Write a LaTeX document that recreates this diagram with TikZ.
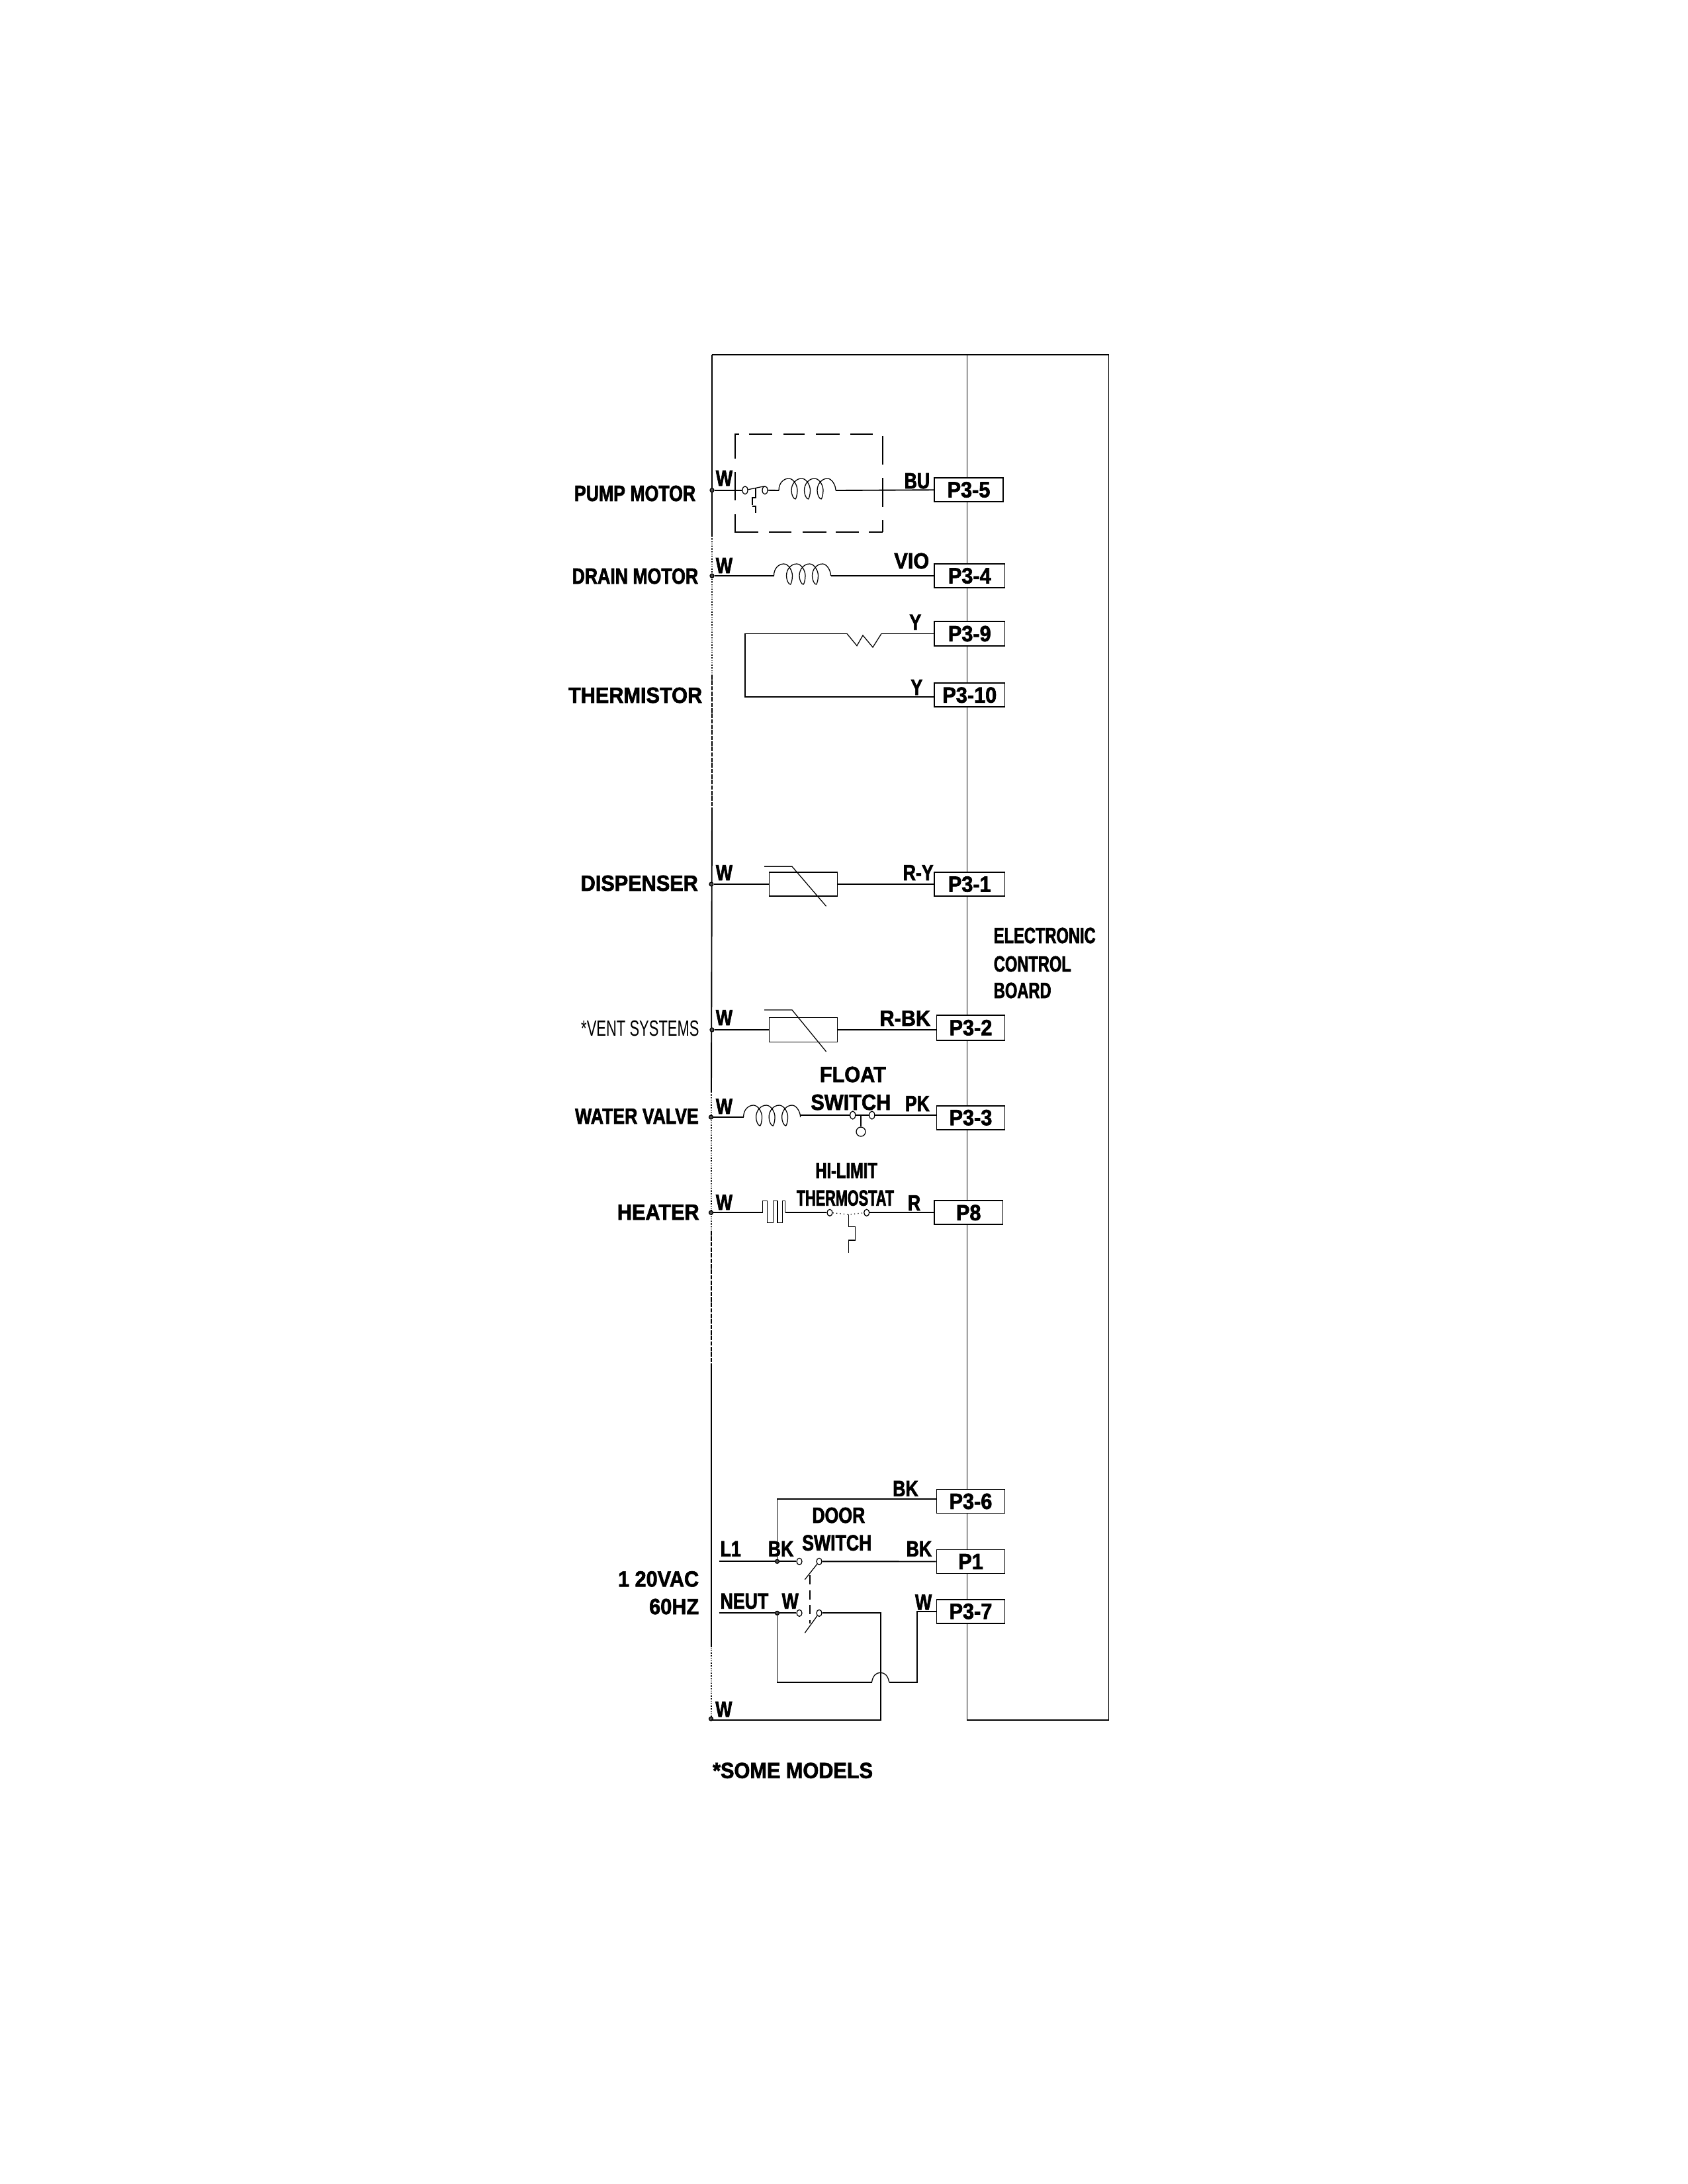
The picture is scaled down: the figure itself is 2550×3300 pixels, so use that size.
\documentclass[tikz,border=0pt]{standalone}
\usepackage{fontspec}
\setmainfont{Liberation Sans}
\newfontfamily\lblfont[FakeStretch=0.8,FakeBold=2]{Liberation Sans Bold}
\newfontfamily\lblwide[FakeStretch=0.92,FakeBold=2]{Liberation Sans Bold}
\newfontfamily\lblslim[FakeStretch=0.71,FakeBold=2]{Liberation Sans Bold}
\newfontfamily\lblnarrow[FakeStretch=0.65,FakeBold=2]{Liberation Sans Bold}
\newfontfamily\lblthin[FakeStretch=0.66]{Liberation Sans}
\usetikzlibrary{shapes,calc,positioning}

\def\px{0.24pt}
\tikzset{
	wire/.style={line width=0.45pt},
	thin wire/.style={line width=0.3pt},
	bus dots/.style={line width=0.4pt,dash pattern=on 0.3pt off 0.3pt},
	bus dash/.style={line width=0.5pt,dash pattern=on 1.6pt off 0.4pt},
	lbl/.style={inner sep=0pt,font=\fontsize{8}{8}\lblfont},
	lbl left/.style={lbl,anchor=base west},
	lbl right/.style={lbl,anchor=base east},
	wide/.style={font=\fontsize{8}{8}\lblwide},
	slim/.style={font=\fontsize{8}{8}\lblslim},
	plug/.style={draw,fill=white,line width=0.4pt,inner sep=0pt,minimum width=103*\px,minimum height=36*\px,font=\fontsize{8}{8}\lblwide},
	dot/.style={circle,draw,fill=black!70,line width=0.3pt,inner sep=0pt,minimum size=6*\px},
	contact/.style={ellipse,draw,fill=white,line width=0.3pt,inner sep=0pt,minimum width=8*\px,minimum height=12*\px},
	coil/.pic={
		\coordinate (-in) at (0,0);
		\coordinate (-out) at (86,0);
		\draw[thin wire] (0,0) .. controls (0,-12) and (8,-18) .. (15,-18)
			\foreach \k in {0,19.5,39} {
				.. controls (22+\k,-18) and (28+\k,-8) .. (28+\k,0)
				.. controls (28+\k,6) and (26+\k,13) .. (25+\k,13)
				.. controls (22+\k,13) and (19+\k,6) .. (19+\k,0)
				.. controls (19+\k,-10) and (26+\k,-18) .. (34.5+\k,-18)
			}
			.. controls (80,-18) and (86,-8) .. (86,0);
	},
}

\begin{document}
\begin{tikzpicture}[x=0.24pt,y=-0.24pt]
	\useasboundingbox (0,0) rectangle (2550,3300);

	% board and bus
	\coordinate (bustop) at (1076,536);
	\coordinate (boardtop) at (1461.5,536);
	\coordinate (cornertr) at (1675.5,536);
	\coordinate (cornerbr) at (1675.5,2599);
	\coordinate (boardbot) at (1461.5,2599);
	\draw[wire] (bustop) -- (cornertr) -- (cornerbr) -- (boardbot) -- (boardtop);
	\draw[wire] (bustop) -- (1076,810);
	\draw[bus dots] (1076,810) -- (1076,1020);
	\draw[bus dash] (1076,1020) -- (1076,1223);
	\draw[wire] (1076,1223) -- (1075,1650);
	\draw[bus dots] (1075,1650) -- (1075,1860);
	\draw[bus dash] (1075,1860) -- (1075,2063);
	\draw[wire] (1075,2063) -- (1075,2488);
	\draw[bus dots] (1075,2488) -- (1075,2596);

	% plugs
	\node[plug,minimum width=103.5*\px] (p35) at (1464,740) {P3-5};
	\node[plug,minimum width=106.5*\px] (p34) at (1465.3,870) {P3-4};
	\node[plug,minimum width=106.5*\px,minimum height=37*\px] (p39) at (1465.3,957.5) {P3-9};
	\node[plug,minimum width=106.5*\px] (p310) at (1465.3,1050.3) {P3-10};
	\node[plug,minimum width=106.5*\px] (p31) at (1465.3,1336) {P3-1};
	\node[plug,minimum height=37.7*\px] (p32) at (1467,1552.8) {P3-2};
	\node[plug] (p33) at (1467,1688.7) {P3-3};
	\node[plug,minimum width=103.5*\px] (p8) at (1463.7,1832.3) {P8};
	\node[plug] (p36) at (1467,2268.5) {P3-6};
	\node[plug] (p1) at (1467,2359.5) {P1};
	\node[plug] (p37) at (1467,2434.7) {P3-7};

	% dots on the bus
	\node[dot] (dpump) at (1076,740.7) {};
	\node[dot] (ddrain) at (1076,870) {};
	\node[dot] (ddisp) at (1075,1336) {};
	\node[dot] (dvent) at (1076,1556) {};
	\node[dot] (dvalve) at (1074.5,1688) {};
	\node[dot] (dheat) at (1074.5,1832.3) {};
	\node[dot] (dret) at (1074.5,2597) {};

	% pump motor
	\foreach \a/\b in {1110/1117,1131.6/1167,1184/1216,1233/1269,1285/1319}
		\draw[wire] (\a,656) -- (\b,656);
	\foreach \a/\b in {1110/1146,1162/1196,1213/1249,1263/1298,1313/1334}
		\draw[wire] (\a,804) -- (\b,804);
	\foreach \a/\b in {656/693,713/756,777/804}
		\draw[wire] (1110.6,\a) -- (1110.6,\b);
	\foreach \a/\b in {659/702,722/766,786/804}
		\draw[wire] (1334,\a) -- (1334,\b);
	\node[contact] (cp1) at (1126,740.7) {};
	\node[contact] (cp2) at (1156,740.7) {};
	\pic (coilp) at (1177,741) {coil};
	\draw[wire] (dpump) -- (cp1);
	\draw[thin wire] (cp1) -- (1155,734.7);
	\draw[wire] (cp2) -- (coilp-in);
	\draw[wire] (coilp-out) -- (p35);
	\draw[thin wire] (1142,738) -- (1142,752) -- (1137,752) -- (1137,763);
	\draw[thin wire] (1137,765) -- (1142,765) -- (1142,775);

	% drain motor
	\pic (coild) at (1169.5,870) {coil};
	\draw[wire] (ddrain) -- (coild-in);
	\draw[wire] (coild-out) -- (p34);

	% thermistor
	\coordinate (tleft) at (1125.7,957.5);
	\coordinate (tbot) at (1125.7,1053);
	\coordinate (r1) at (1280,957.5);
	\coordinate (r2) at (1332,957.5);
	\draw[wire] (p39) -- (r2);
	\draw[thin wire] (r2) -- (1319,978) -- (1304,960) -- (1295,975.7) -- (r1);
	\draw[wire] (r1) -- (tleft) -- (tbot) -- (tbot -| p310.west);

	% dispenser and vent
	\node[draw,wire,inner sep=0pt,minimum width=103*\px,minimum height=36*\px] (rdisp) at (1214,1336) {};
	\node[draw,wire,inner sep=0pt,minimum width=103*\px,minimum height=37*\px] (rvent) at (1214,1556) {};
	\draw[wire] (ddisp) -- (rdisp) (rdisp) -- (p31);
	\draw[wire] (dvent) -- (rvent);
	\draw[wire] (rvent) -- (rvent -| p32.west);
	\draw[thin wire] (1155,1309.3) -- (1197,1309.3) -- (1248.6,1369.3);
	\draw[thin wire] (1155,1526) -- (1197,1526) -- (1248.6,1589);

	% water valve
	\pic (coilv) at (1123.6,1688) {coil};
	\node[contact] (cv1) at (1288.7,1685) {};
	\node[contact] (cv2) at (1317.8,1685) {};
	\node[circle,draw,thin wire,inner sep=0pt,minimum size=14*\px] (flt) at (1301,1710) {};
	\draw[wire] (dvalve) -- (coilv-in);
	\draw[wire] (coilv-out |- cv1) -- (cv1);
	\draw[thin wire] (cv1) -- (cv2);
	\draw[wire] (cv2) -- (cv2 -| p33.west);
	\draw[thin wire] (flt) -- (1301,1685);

	% heater
	\node[contact,minimum height=10*\px] (ch1) at (1254,1832.3) {};
	\node[contact,minimum height=10*\px] (ch2) at (1309.7,1832.3) {};
	\coordinate (h1) at (1152.6,1832.3);
	\coordinate (h2) at (1186.5,1832.3);
	\draw[wire] (dheat) -- (h1);
	\draw[thin wire] (h1) -- (1152.6,1814.3) -- (1159.3,1814.3) -- (1159.3,1847.3) -- (1168.2,1847.3) -- (1168.2,1814.3)
		-- (1175,1814.3) -- (1175,1847.3) -- (1182.5,1847.3) -- (1182.5,1814.3) -- (1186.5,1814.3) -- (h2);
	\draw[wire] (h2) -- (ch1);
	\draw[thin wire,densely dotted] (ch1) -- (1282.5,1835) -- (ch2);
	\draw[wire] (ch2) -- (p8);
	\draw[thin wire] (1282.5,1835) -- (1282.5,1853.3) -- (1292.8,1853.3) -- (1292.8,1874) -- (1282.5,1874) -- (1282.5,1892.7);

	% door switch
	\node[dot] (dl1) at (1174.5,2359.3) {};
	\node[dot] (dneu) at (1174.5,2437.3) {};
	\node[contact,minimum height=10*\px] (cl1) at (1208,2359.3) {};
	\node[contact,minimum height=10*\px] (cl2) at (1238,2359.3) {};
	\node[contact,minimum height=10*\px] (cn1) at (1208,2437.3) {};
	\node[contact,minimum height=10*\px] (cn2) at (1238,2437.3) {};
	\coordinate (l1) at (1086.5,2359.3);
	\coordinate (neu) at (1086.5,2437.3);
	\coordinate (top6) at (1174.5,2265.3);
	\coordinate (ncorner) at (1331.4,2437.3);
	\coordinate (nbot) at (1331.4,2599);
	\coordinate (loopl) at (1174.5,2541.7);
	\coordinate (jump1) at (1317.5,2541.7);
	\coordinate (jump2) at (1343.7,2541.7);
	\coordinate (loopr) at (1385.7,2541.7);
	\coordinate (loopt) at (1385.7,2434.7);
	\draw[wire] (l1) -- (dl1) -- (cl1);
	\draw[wire] (dl1) -- (top6) -- (top6 -| p36.west);
	\draw[wire] (cl2) -- (p1);
	\draw[wire] (neu) -- (dneu) -- (cn1);
	\draw[thin wire] (cl2) -- (1216.3,2386.7);
	\draw[thin wire] (cn2) -- (1216.3,2467.3);
	\draw[wire,dash pattern=on 3.4pt off 2pt] (1223.7,2380) -- (1223.7,2453);
	\draw[wire] (cn2) -- (ncorner) -- (nbot) -- (nbot -| dret);
	\draw[wire] (dneu) -- (loopl) -- (jump1);
	\draw[thin wire] (jump1) .. controls (1319,2532) and (1324,2527.3) .. (1330.6,2527.3) .. controls (1337,2527.3) and (1342,2532) .. (jump2);
	\draw[wire] (jump2) -- (loopr) -- (loopt) -- (p37);

	% labels on the left
	\node[lbl right] (tpump) at (1052,757) {PUMP MOTOR};
	\node[lbl right] (tdrain) at (1056,882) {DRAIN MOTOR};
	\node[lbl right,wide] (ttherm) at (1062,1062) {THERMISTOR};
	\node[lbl right,wide] (tdisp) at (1055.7,1346) {DISPENSER};
	\node[lbl right,font=\fontsize{8}{8}\lblthin] (tvent) at (1057.5,1565) {*VENT SYSTEMS};
	\node[lbl right] (tvalve) at (1056.6,1698) {WATER VALVE};
	\node[lbl right,wide] (theat) at (1057.5,1843) {HEATER};
	\node[lbl right,wide] (t120) at (1057,2397.3) {1 20VAC};
	\node[lbl right,wide] (t60) at (1057,2439) {60HZ};
	\node[lbl left,wide] (tsome) at (1076.3,2686.7) {*SOME MODELS};

	% wire colours
	\node[lbl left] (wpump) at (1081,734) {W};
	\node[lbl left] (wdrain) at (1081,866) {W};
	\node[lbl left] (wdisp) at (1081,1330) {W};
	\node[lbl left] (wvent) at (1081,1549) {W};
	\node[lbl left] (wvalve) at (1081,1683) {W};
	\node[lbl left] (wheat) at (1081,1828) {W};
	\node[lbl left] (wret) at (1080.4,2594) {W};
	\node[lbl right] (bu) at (1406,738) {BU};
	\node[lbl right,wide] (vio) at (1405,859) {VIO};
	\node[lbl right] (y1) at (1393,951.7) {Y};
	\node[lbl right] (y2) at (1395,1050) {Y};
	\node[lbl right] (ry) at (1411.5,1330) {R-Y};
	\node[lbl right,wide] (rbk) at (1407,1550) {R-BK};
	\node[lbl right] (pk) at (1405.7,1679) {PK};
	\node[lbl right] (r) at (1392,1829) {R};
	\node[lbl right] (bk1) at (1388.6,2260.7) {BK};
	\node[lbl left] (tl1) at (1087.8,2351.7) {L1};
	\node[lbl left] (bk2) at (1160,2351.7) {BK};
	\node[lbl right] (bk3) at (1409,2351.7) {BK};
	\node[lbl left] (tneut) at (1087.8,2430.7) {NEUT};
	\node[lbl left] (wneut) at (1180.8,2430.7) {W};
	\node[lbl right] (w37) at (1409,2432.3) {W};

	% switch names
	\node[lbl left,wide] (tfloat) at (1238,1635) {FLOAT};
	\node[lbl left,wide] (tfsw) at (1224.5,1677) {SWITCH};
	\node[lbl left,slim] (thi) at (1231.6,1780) {HI-LIMIT};
	\node[lbl left,font=\fontsize{8}{8}\lblnarrow] (tstat) at (1203,1821.7) {THERMOSTAT};
	\node[lbl left] (tdoor) at (1226.5,2301) {DOOR};
	\node[lbl left] (tdsw) at (1211.4,2342.7) {SWITCH};

	% board name
	\node[lbl left,slim] (tel) at (1501,1425) {ELECTRONIC};
	\node[lbl left,slim] (tco) at (1501,1468) {CONTROL};
	\node[lbl left,slim] (tbo) at (1501,1508) {BOARD};
\end{tikzpicture}
\end{document}
